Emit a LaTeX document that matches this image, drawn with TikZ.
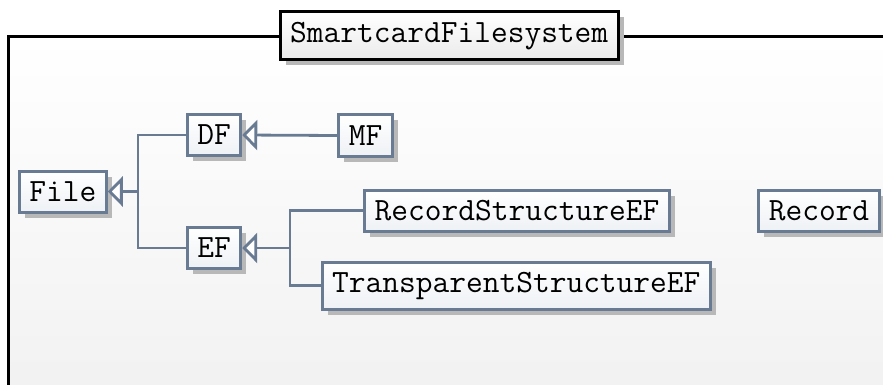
\documentclass[tikz,border=0pt]{standalone}
\usepackage{fontspec}
\usetikzlibrary{arrows.meta,shadows,calc}
\definecolor{edgeblue}{HTML}{687B92}
\definecolor{shadowgray}{HTML}{B8B8B8}
\definecolor{panelbot}{HTML}{F1F1F1}
\definecolor{boxbot}{HTML}{EEF1F5}
\tikzset{
  cls/.style={draw=edgeblue, line width=3pt, top color=white, bottom color=boxbot,
    font=\fontsize{32.5}{32.5}\selectfont\ttfamily, inner xsep=10pt, inner ysep=0pt,
    minimum height=41pt, anchor=center,
    drop shadow={shadow xshift=5.5pt, shadow yshift=-5.5pt, fill=shadowgray, opacity=1}},
  pkgtitle/.style={cls, draw=black, bottom color=black!8, minimum height=48pt},
  link/.style={draw=edgeblue, line width=2.8pt},
  gen/.style={link, -{Triangle[open, length=15pt, width=30pt, fill=white, line width=2.8pt]}},
}
\begin{document}
\begin{tikzpicture}[x=1pt, y=-1pt]
  \useasboundingbox (0,0) rectangle (883,385);
  \begin{scope}
    \clip (0,0) rectangle (883,385);
    % package panel
    \shade[top color=white, bottom color=panelbot] (8,37) rectangle (900,400);
    \draw[line width=3pt] (8,400) -- (8,37) -- (900,37);
  \end{scope}
  \node[pkgtitle] (pkg) at (449.2,35.8) {SmartcardFilesystem};

  % classes
  \node[cls] (file) at (62.8,191.5) {File};
  \node[cls] (df)   at (214,135)    {DF};
  \node[cls] (ef)   at (214,248)    {EF};
  \node[cls] (mf)   at (365.7,135.5) {MF};
  \node[cls] (rsef) at (517,210.5)  {RecordStructureEF};
  \node[cls, minimum height=47pt] (tsef) at (516.3,285.5) {TransparentStructureEF};
  \node[cls] (rec)  at (819,210.5)  {Record};

  % generalisations
  \coordinate (j1) at (138,191.5);
  \coordinate (j2) at (290,248);
  \draw[link] (df.west) -| (j1) |- (ef.west);
  \draw[gen] (j1) -- (file.east);
  \draw[gen] (mf.west) -- (df.east);
  \draw[link] (rsef.west) -| (j2) |- (tsef.west);
  \draw[gen] (j2) -- (ef.east);
\end{tikzpicture}
\end{document}
